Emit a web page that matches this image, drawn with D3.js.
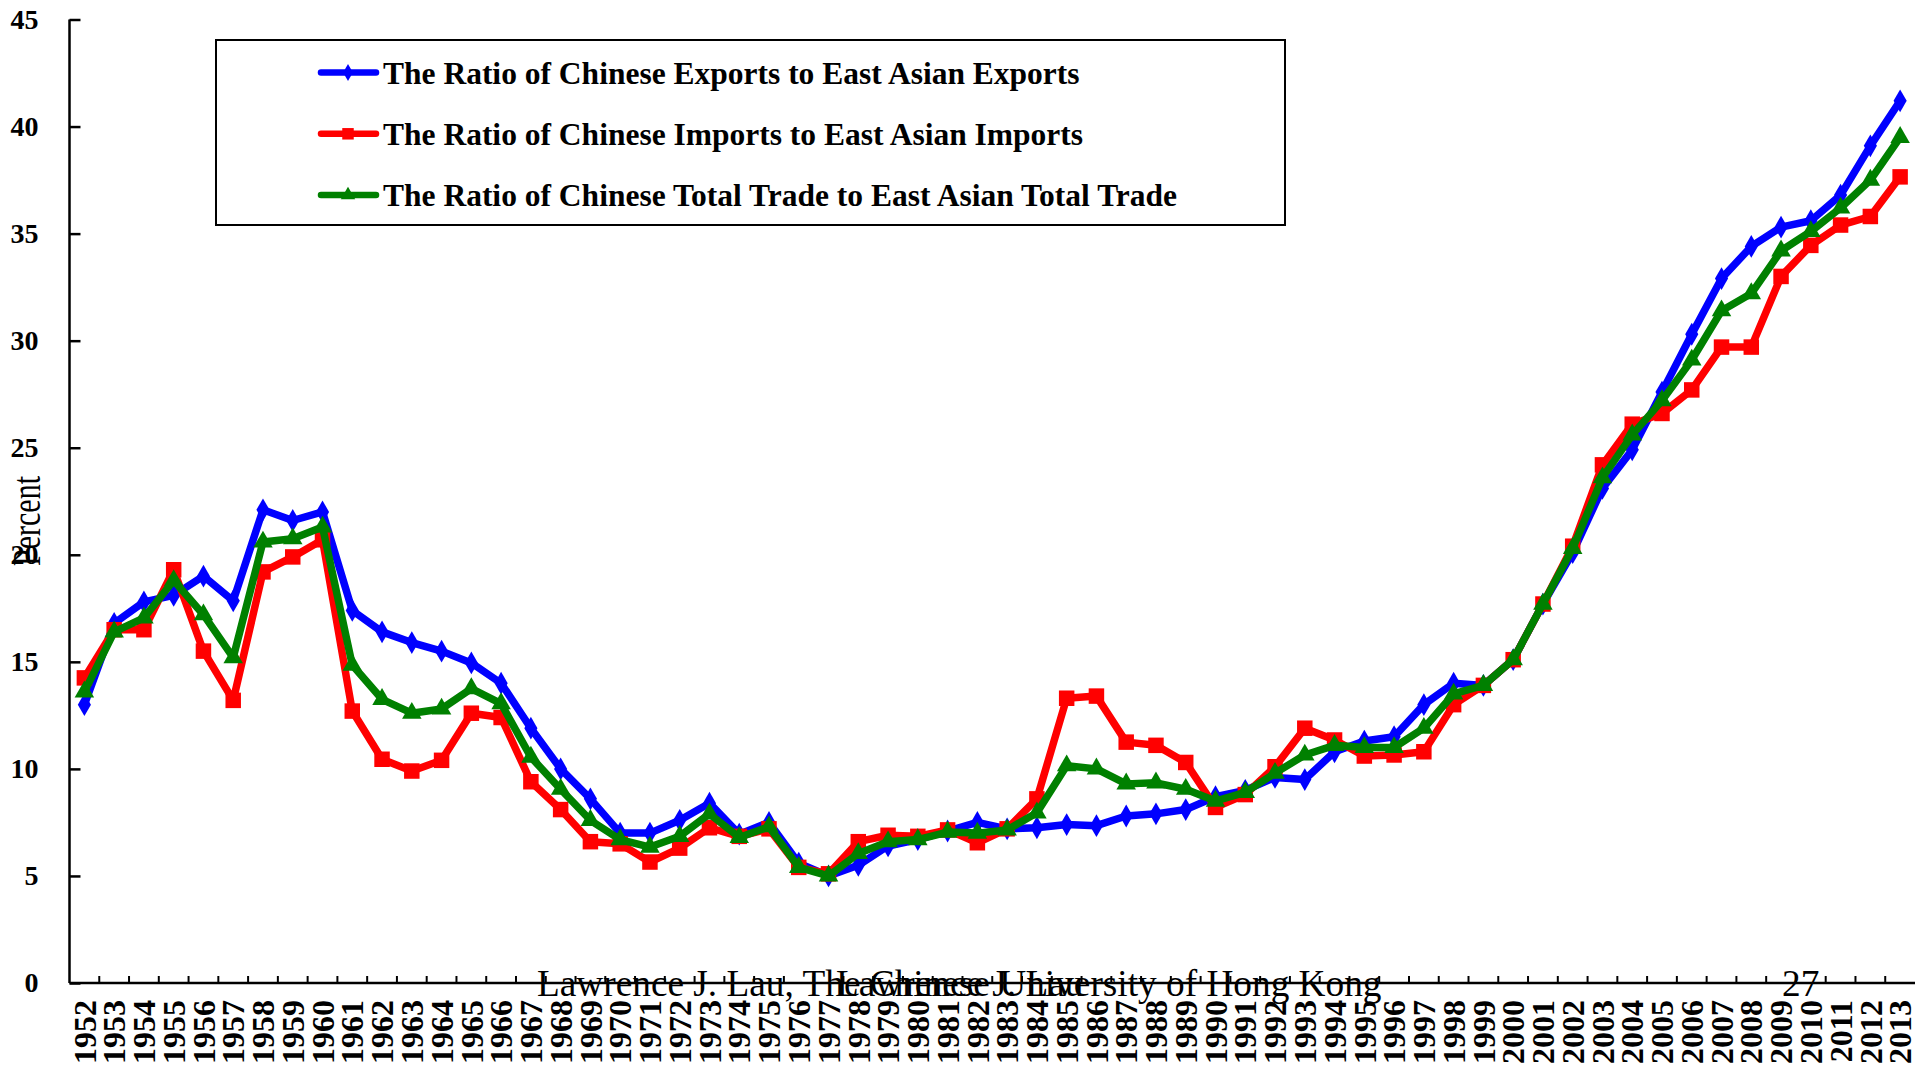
<!DOCTYPE html>
<html>
<head>
<meta charset="utf-8">
<script src="https://cdn.jsdelivr.net/npm/d3@7"></script>
<style>
  body { margin: 0; background: #fff; }
  svg { display: block; }
  text { font-family: "Liberation Serif", "Times New Roman", serif; }
</style>
</head>
<body>
<div id="chart"></div>
<script>
// years on the x axis
var years = d3.range(1952, 2014).map(String);

// ratio of Chinese exports to East Asian exports (percent)
var exportsRatio = [13.0, 16.8, 17.8, 18.1, 19.0, 17.85, 22.1, 21.6, 22.0, 17.4,
  16.4, 15.9, 15.5, 14.95, 14.0, 11.9, 10.0, 8.6, 7.0, 7.0,
  7.6, 8.4, 6.95, 7.5, 5.6, 5.0, 5.5, 6.4, 6.7, 7.1,
  7.5, 7.2, 7.25, 7.4, 7.35, 7.8, 7.9, 8.1, 8.7, 9.0,
  9.6, 9.5, 10.8, 11.3, 11.5, 13.0, 14.0, 13.9, 15.1, 17.7,
  20.1, 23.1, 24.9, 27.6, 30.3, 32.9, 34.4, 35.3, 35.6, 36.8,
  39.1, 41.2];

// ratio of Chinese imports to East Asian imports (percent)
var importsRatio = [14.25, 16.5, 16.5, 19.3, 15.5, 13.2, 19.2, 19.9, 20.7, 12.7,
  10.45, 9.9, 10.4, 12.6, 12.4, 9.4, 8.1, 6.6, 6.5, 5.65,
  6.3, 7.25, 6.85, 7.2, 5.4, 5.1, 6.6, 6.9, 6.85, 7.15,
  6.55, 7.2, 8.6, 13.3, 13.4, 11.25, 11.1, 10.3, 8.2, 8.8,
  10.1, 11.9, 11.35, 10.6, 10.65, 10.8, 13.0, 13.9, 15.1, 17.7,
  20.4, 24.2, 26.1, 26.6, 27.7, 29.7, 29.7, 33.0, 34.45, 35.4,
  35.8, 37.65];

// ratio of Chinese total trade to East Asian total trade (percent)
var totalRatio = [13.6, 16.4, 17.05, 18.8, 17.2, 15.2, 20.6, 20.75, 21.3, 14.85,
  13.25, 12.6, 12.8, 13.75, 13.05, 10.55, 9.05, 7.6, 6.7, 6.35,
  6.85, 7.9, 6.8, 7.3, 5.4, 5.0, 6.05, 6.6, 6.7, 7.05,
  7.0, 7.15, 7.95, 10.15, 10.0, 9.3, 9.35, 9.05, 8.5, 8.9,
  9.8, 10.65, 11.1, 11.0, 11.0, 11.9, 13.5, 13.9, 15.1, 17.7,
  20.3, 23.6, 25.6, 27.2, 29.1, 31.4, 32.2, 34.2, 35.1, 36.2,
  37.5, 39.5];

var yTicks = [0, 5, 10, 15, 20, 25, 30, 35, 40, 45];

var seriesNames = [
  "The Ratio of Chinese Exports to East Asian Exports",
  "The Ratio of Chinese Imports to East Asian Imports",
  "The Ratio of Chinese Total Trade to East Asian Total Trade"
];

var series = [
  {name: seriesNames[0], values: exportsRatio, color: "#0000ff", symbol: d3.symbolDiamond, size: 150},
  {name: seriesNames[1], values: importsRatio, color: "#ff0000", symbol: d3.symbolSquare, size: 240},
  {name: seriesNames[2], values: totalRatio, color: "#008000", symbol: d3.symbolTriangle, size: 165}
];

var width = 1915, height = 1066;
// plot area edges (note: "top" is reserved on window, so use other names)
var plotLeft = 69.5, plotRight = 1915, plotTop = 19.5, plotBottom = 983;

var svg = d3.select("#chart").append("svg")
  .attr("width", width)
  .attr("height", height);

var x = d3.scaleBand().domain(years).range([plotLeft, plotRight]).padding(0);
var y = d3.scaleLinear().domain([0, 45]).range([plotBottom, plotTop]);

// y axis, ticks pointing inward
var yAxis = svg.append("g")
  .attr("transform", "translate(" + plotLeft + ",0)")
  .call(d3.axisLeft(y).tickValues(yTicks).tickSize(-11).tickPadding(31));
yAxis.select(".domain").attr("stroke-width", 2.5).attr("d", "M0," + plotTop + "V" + plotBottom);
yAxis.selectAll(".tick line").attr("stroke-width", 2.5);
yAxis.selectAll(".tick text")
  .style("font-size", "28px")
  .style("font-weight", "bold")
  .style("font-family", "Liberation Serif");

// x axis
var xAxis = svg.append("g")
  .attr("transform", "translate(0," + plotBottom + ")")
  .call(d3.axisBottom(x).tickSize(0).tickPadding(0));
xAxis.select(".domain").attr("stroke-width", 2.5).attr("d", "M" + plotLeft + ",0H" + plotRight);
xAxis.selectAll(".tick text")
  .attr("transform", "rotate(-90)")
  .attr("text-anchor", "end")
  .attr("x", -17)
  .attr("y", 0)
  .attr("dy", "0.35em")
  .style("font-size", "32px")
  .style("font-weight", "bold")
  .style("font-family", "Liberation Serif");

// tick marks between the categories
svg.append("g").selectAll("line")
  .data(years.slice(1))
  .enter().append("line")
    .attr("x1", function(d) { return x(d); })
    .attr("x2", function(d) { return x(d); })
    .attr("y1", plotBottom)
    .attr("y2", plotBottom - 7)
    .attr("stroke", "#000")
    .attr("stroke-width", 2);

// y axis label (slightly widened like the slide)
svg.append("text")
  .attr("transform", "translate(40,521) scale(1.3,1) rotate(-90)")
  .attr("text-anchor", "middle")
  .style("font-size", "30px")
  .text("Percent");

// lines and markers
var line = d3.line()
  .x(function(d, i) { return x(years[i]) + x.bandwidth() / 2; })
  .y(function(d) { return y(d); });

series.forEach(function(s) {
  svg.append("path")
    .datum(s.values)
    .attr("fill", "none")
    .attr("stroke", s.color)
    .attr("stroke-width", 7.5)
    .attr("stroke-linejoin", "round")
    .attr("d", line);
  svg.append("g").selectAll("path")
    .data(s.values)
    .enter().append("path")
      .attr("d", d3.symbol().type(s.symbol).size(s.size))
      .attr("fill", s.color)
      .attr("transform", function(d, i) {
        return "translate(" + (x(years[i]) + x.bandwidth() / 2) + "," + y(d) + ")";
      });
});

// legend
svg.append("rect")
  .attr("x", 216).attr("y", 40)
  .attr("width", 1069).attr("height", 185)
  .attr("fill", "#fff")
  .attr("stroke", "#000")
  .attr("stroke-width", 2);

var legend = svg.append("g").selectAll("g")
  .data(series)
  .enter().append("g")
    .attr("transform", function(d, i) { return "translate(0," + (72.5 + i * 61.3) + ")"; });
legend.append("line")
  .attr("x1", 321).attr("x2", 376)
  .attr("stroke", function(d) { return d.color; })
  .attr("stroke-width", 6.5)
  .attr("stroke-linecap", "round");
legend.append("path")
  .attr("d", function(d) { return d3.symbol().type(d.symbol).size(d.size * 0.55)(); })
  .attr("fill", function(d) { return d.color; })
  .attr("transform", "translate(348,0)");
legend.append("text")
  .attr("x", 383)
  .attr("dy", "0.35em")
  .style("font-size", "31.5px")
  .style("font-weight", "bold")
  .text(function(d) { return d.name; });

// footer texts from the slide
svg.append("text")
  .attr("x", 537).attr("y", 996)
  .style("font-size", "37.3px")
  .text("Lawrence J. Lau, The Chinese University of Hong Kong");
svg.append("text")
  .attr("x", 836).attr("y", 996)
  .style("font-size", "37.3px")
  .text("Lawrence J. Lau");
svg.append("text")
  .attr("x", 1782).attr("y", 996)
  .style("font-size", "37.3px")
  .text("27");
</script>
</body>
</html>
